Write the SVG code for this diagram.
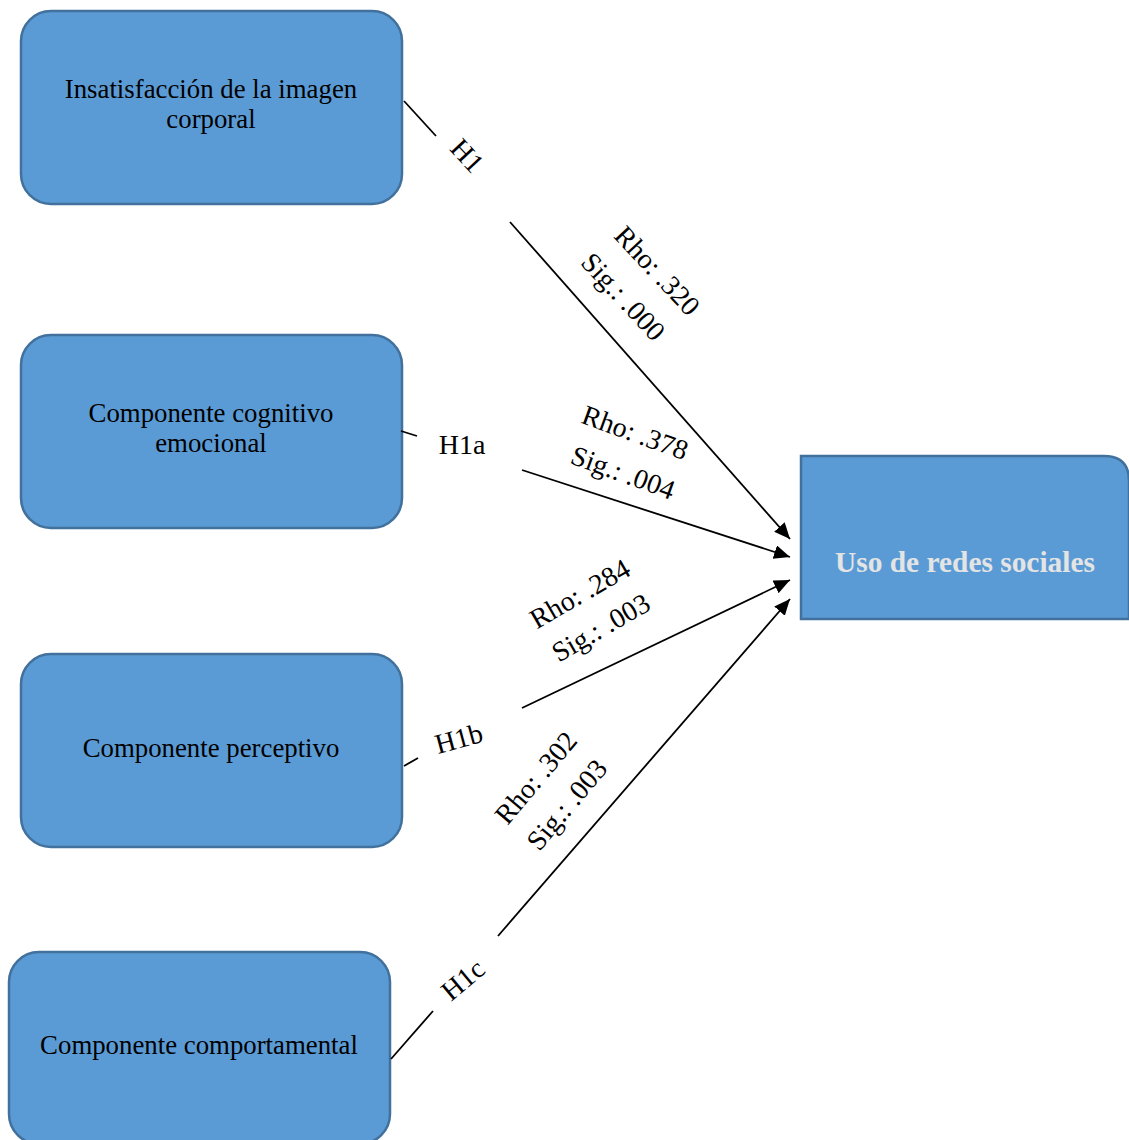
<svg xmlns="http://www.w3.org/2000/svg" width="1129" height="1140" viewBox="0 0 1129 1140">
<style>
.box{fill:#5B9BD5;stroke:#41719C;stroke-width:2.5}
.nt{font-family:"Liberation Serif","Times New Roman",serif;font-size:26.8px;fill:#000;text-anchor:middle}
.lb{font-family:"Liberation Serif","Times New Roman",serif;font-size:28px;fill:#000;text-anchor:middle}
.tt{font-family:"Liberation Serif","Times New Roman",serif;font-size:29.4px;font-weight:bold;fill:#E4E4E4;text-anchor:middle}
.ln{stroke:#000;stroke-width:1.8;fill:none}
</style>
<defs>
<marker id="ah" markerUnits="userSpaceOnUse" markerWidth="17" markerHeight="15" refX="16" refY="7" orient="auto">
<path d="M0,0 L16,7 L0,14 z" fill="#000"/>
</marker>
</defs>
<g id="n1">
<rect class="box" x="21" y="11" width="381" height="193" rx="30"/>
<text class="nt" x="211" y="98">Insatisfacción de la imagen</text>
<text class="nt" x="211" y="128">corporal</text>
</g>
<g id="n2">
<rect class="box" x="21" y="335" width="381" height="193" rx="30"/>
<text class="nt" x="211" y="422">Componente cognitivo</text>
<text class="nt" x="211" y="452">emocional</text>
</g>
<g id="n3">
<rect class="box" x="21" y="654" width="381" height="193" rx="30"/>
<text class="nt" x="211" y="757">Componente perceptivo</text>
</g>
<g id="n4">
<rect class="box" x="9" y="952" width="381" height="192" rx="30"/>
<text class="nt" x="199" y="1054">Componente comportamental</text>
</g>
<g id="target">
<path class="box" d="M801,456 H1104 Q1129,456 1129,481 V619 H801 Z"/>
<text class="tt" x="965" y="572">Uso de redes sociales</text>
</g>
<g id="connectors">
<line class="ln" x1="404" y1="101" x2="436" y2="136"/>
<line class="ln" x1="510" y1="222" x2="790" y2="539" marker-end="url(#ah)"/>
<line class="ln" x1="401" y1="431" x2="417" y2="436"/>
<line class="ln" x1="522" y1="470" x2="790" y2="557" marker-end="url(#ah)"/>
<line class="ln" x1="404" y1="766" x2="418" y2="758"/>
<line class="ln" x1="522" y1="708" x2="790" y2="580" marker-end="url(#ah)"/>
<line class="ln" x1="391" y1="1059" x2="433" y2="1011"/>
<line class="ln" x1="498" y1="936" x2="790" y2="599" marker-end="url(#ah)"/>
<g id="labels">
<text class="lb" transform="translate(467,156) rotate(47)" y="9">H1</text>
<text class="lb" transform="translate(657,271) rotate(47)" y="9">Rho: .320</text>
<text class="lb" transform="translate(623,297) rotate(47)" y="9">Sig.: .000</text>
<text class="lb" x="462" y="454">H1a</text>
<text class="lb" transform="translate(635,433) rotate(20)" y="9">Rho: .378</text>
<text class="lb" transform="translate(623,473) rotate(20)" y="9">Sig.: .004</text>
<text class="lb" transform="translate(459,739) rotate(-15)" y="9">H1b</text>
<text class="lb" transform="translate(580,594) rotate(-30)" y="9">Rho: .284</text>
<text class="lb" transform="translate(601,628) rotate(-30)" y="9">Sig.: .003</text>
<text class="lb" transform="translate(536,778) rotate(-50)" y="9">Rho: .302</text>
<text class="lb" transform="translate(567,805) rotate(-50)" y="9">Sig.: .003</text>
<text class="lb" transform="translate(463,980) rotate(-40)" y="9">H1c</text>
</g>
</g>
</svg>
